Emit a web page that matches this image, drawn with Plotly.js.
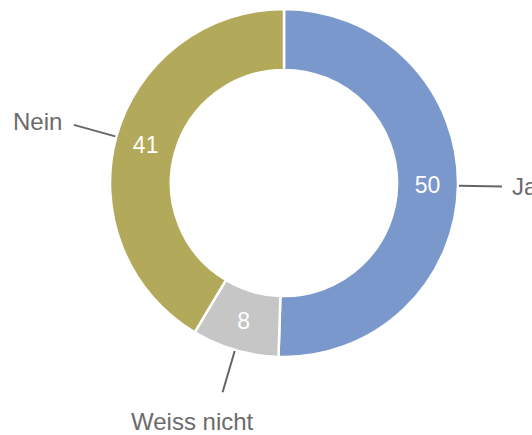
<!DOCTYPE html>
<html>
<head>
<meta charset="utf-8">
<script src="https://cdn.plot.ly/plotly-3.0.1.min.js"></script>
<style>html,body{margin:0;padding:0;background:#fff}#chart{width:532px;height:435px}</style>
</head>
<body>
<div id="chart"></div>
<script>
const labels = ["Ja", "Weiss nicht", "Nein"];
const values = [50, 8, 41];
const colors = ["#7a98cb", "#c6c6c6", "#b3a95a"];

const W = 532, H = 435;
const CX = 284, CY = 183, R = 174;
const R_LINE_START = 175, R_LINE_END = 218;
const FONT = "'Liberation Sans', Arial, sans-serif";
const LABEL_COLOR = "#6b6b6b";

const total = values.reduce((a, b) => a + b, 0);
const shapes = [];
const annotations = [];
let cum = 0;
values.forEach((v, i) => {
  const mid = (cum + v / 2) / total * 2 * Math.PI;
  cum += v;
  const dx = Math.sin(mid), dy = -Math.cos(mid);
  const x0 = CX + dx * R_LINE_START, y0 = CY + dy * R_LINE_START;
  const x1 = CX + dx * R_LINE_END, y1 = CY + dy * R_LINE_END;
  shapes.push({
    type: "line", xref: "paper", yref: "paper",
    x0: x0 / W, y0: 1 - y0 / H, x1: x1 / W, y1: 1 - y1 / H,
    line: {color: "#666666", width: 2}
  });
  let ann = {
    xref: "paper", yref: "paper", x: x1 / W, y: 1 - y1 / H,
    text: labels[i], showarrow: false,
    font: {family: FONT, size: 24, color: LABEL_COLOR}
  };
  if (Math.abs(dx) > 0.7) {
    ann.xanchor = dx > 0 ? "left" : "right";
    ann.yanchor = "middle";
    ann.xshift = dx > 0 ? 8 : -10;
    ann.yshift = dx > 0 ? 0 : 3;
  } else {
    ann.xanchor = "center";
    ann.yanchor = "top";
    ann.xshift = -30;
    ann.yshift = -14;
  }
  annotations.push(ann);
});

const trace = {
  type: "pie",
  labels: labels,
  values: values,
  sort: false,
  direction: "clockwise",
  rotation: 0,
  hole: 0.65,
  marker: {colors: colors, line: {color: "#ffffff", width: 2.5}},
  textinfo: "value",
  textposition: "inside",
  insidetextorientation: "horizontal",
  textfont: {family: FONT, size: 23, color: "#ffffff"},
  showlegend: false,
  hoverinfo: "none",
  domain: {
    x: [(CX - R) / W, (CX + R) / W],
    y: [1 - (CY + R) / H, 1 - (CY - R) / H]
  }
};

const layout = {
  width: W, height: H,
  margin: {l: 0, r: 0, t: 0, b: 0},
  paper_bgcolor: "#ffffff",
  plot_bgcolor: "#ffffff",
  showlegend: false,
  shapes: shapes,
  annotations: annotations
};

Plotly.newPlot("chart", [trace], layout, {displayModeBar: false, staticPlot: true});
</script>
</body>
</html>
